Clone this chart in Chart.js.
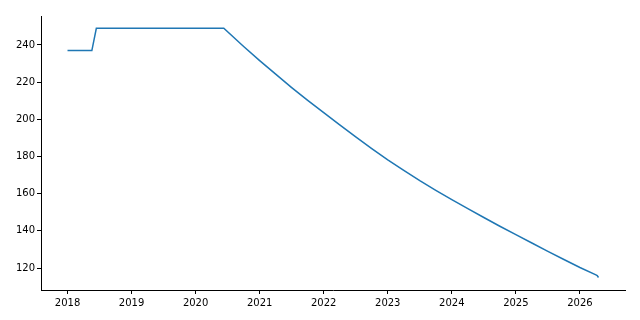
<!DOCTYPE html>
<html>
<head>
<meta charset="utf-8">
<script src="https://cdn.jsdelivr.net/npm/chart.js@4/dist/chart.umd.min.js"></script>
<style>
    html, body { margin: 0; padding: 0; background: #fff; }
    #wrap { width: 640px; height: 320px; }
</style>
</head>
<body>
<div id="wrap"><canvas id="chart" width="640" height="320"></canvas></div>
<script>
// decimal years
const years = [
    2018.0, 2018.38, 2018.45, 2020.44,
    2020.75, 2021.0, 2021.25, 2021.5, 2021.75,
    2022.0, 2022.25, 2022.5, 2022.75,
    2023.0, 2023.25, 2023.5, 2023.75,
    2024.0, 2024.25, 2024.5, 2024.75,
    2025.0, 2025.25, 2025.5, 2025.75,
    2026.0, 2026.25, 2026.27, 2026.29
];
const values = [
    237.0, 237.0, 249.0, 249.0,
    239.2, 231.6, 224.3, 217.1, 210.2,
    203.6, 197.0, 190.6, 184.3,
    178.2, 172.5, 167.0, 161.8,
    156.8, 152.0, 147.2, 142.5,
    138.0, 133.5, 129.0, 124.6,
    120.3, 116.3, 115.9, 114.9
];
const xTicks = [2018, 2019, 2020, 2021, 2022, 2023, 2024, 2025, 2026];
const yTicks = [120, 140, 160, 180, 200, 220, 240];

const FONT = { family: 'DejaVu Sans', size: 10 };

const points = years.map((x, i) => ({ x: x, y: values[i] }));

new Chart(document.getElementById('chart').getContext('2d'), {
    type: 'line',
    data: {
        datasets: [{
            data: points,
            borderColor: '#1f77b4',
            borderWidth: 1.5,
            pointRadius: 0,
            tension: 0,
            fill: false
        }]
    },
    options: {
        responsive: false,
        animation: false,
        layout: { padding: { top: 16, right: 15, left: 0, bottom: 0 } },
        plugins: {
            legend: { display: false },
            tooltip: { enabled: false }
        },
        scales: {
            x: {
                type: 'linear',
                min: 2017.586,
                max: 2026.704,
                afterBuildTicks: axis => { axis.ticks = xTicks.map(v => ({ value: v })); },
                afterFit: axis => { axis.height = 30; },
                ticks: {
                    color: '#000',
                    font: FONT,
                    padding: 3,
                    maxRotation: 0,
                    autoSkip: false,
                    callback: v => String(v)
                },
                grid: {
                    drawOnChartArea: false,
                    drawTicks: true,
                    tickLength: 4,
                    tickColor: '#000'
                },
                border: { display: true, color: '#000', width: 1 }
            },
            y: {
                min: 108.2,
                max: 255.6,
                afterBuildTicks: axis => { axis.ticks = yTicks.map(v => ({ value: v })); },
                afterFit: axis => { axis.width = 41; },
                ticks: {
                    color: '#000',
                    font: FONT,
                    padding: 2,
                    callback: v => String(v)
                },
                grid: {
                    drawOnChartArea: false,
                    drawTicks: true,
                    tickLength: 4,
                    tickColor: '#000'
                },
                border: { display: true, color: '#000', width: 1 }
            }
        }
    }
});
</script>
</body>
</html>
